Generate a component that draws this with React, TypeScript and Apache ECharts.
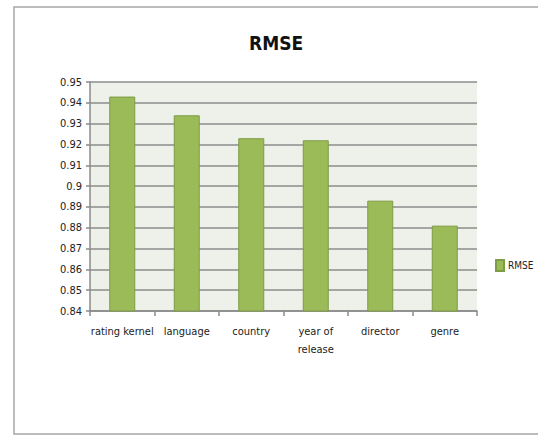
import React, { useEffect, useRef } from "react";
import * as echarts from "echarts";

const categories = ["rating kernel", "language", "country", "year of\nrelease", "director", "genre"];
const rmseValues = [0.943, 0.934, 0.923, 0.922, 0.893, 0.881];
const seriesName = "RMSE";
const titleText = "RMSE";

const FONT = "'Liberation Sans Narrow', 'DejaVu Sans Condensed', Lato, sans-serif";

export default function App() {
  const ref = useRef<HTMLDivElement>(null);
  useEffect(() => {
    document.body.style.margin = "0";
    const chart = echarts.init(ref.current!, undefined, { renderer: "svg" });
    chart.setOption({
      animation: false,
      backgroundColor: "#ffffff",
      title: {
        text: titleText,
        left: 244,
        top: 28,
        textStyle: { fontFamily: FONT, fontSize: 19, fontWeight: "bold", color: "#111" },
      },
      legend: {
        orient: "vertical",
        left: 490,
        top: 254,
        icon: "rect",
        itemWidth: 8,
        itemHeight: 11,
        itemGap: 4,
        textStyle: { fontFamily: FONT, fontSize: 10, color: "#222", padding: [0, 0, 0, -1] },
        data: [seriesName],
      },
      grid: {
        left: 90,
        right: 61,
        top: 82,
        bottom: 125,
        show: true,
        backgroundColor: "#EEF1E9",
        borderWidth: 0,
      },
      xAxis: {
        type: "category",
        data: categories,
        axisLine: { lineStyle: { color: "#8a8a8a", width: 1.5 } },
        axisTick: { show: true, length: 5, lineStyle: { color: "#8a8a8a", width: 1.5 } },
        axisLabel: {
          fontFamily: FONT,
          fontSize: 11,
          color: "#222",
          margin: 11,
          lineHeight: 18,
          interval: 0,
        },
      },
      yAxis: {
        type: "value",
        min: 0.84,
        max: 0.95,
        interval: 0.01,
        axisLine: { show: true, lineStyle: { color: "#8a8a8a", width: 1.5 } },
        axisTick: { show: true, length: 4, lineStyle: { color: "#8a8a8a", width: 1.5 } },
        axisLabel: {
          fontFamily: FONT,
          fontSize: 11,
          color: "#222",
          margin: 8,
          formatter: (v: number) => String(Math.round(v * 100) / 100),
        },
        splitLine: { show: true, lineStyle: { color: "#8c8c8c", width: 1.5 } },
      },
      graphic: [
        {
          type: "rect",
          shape: { x: 14, y: 7, width: 540, height: 427 },
          style: { fill: "none", stroke: "#a6a6a6", lineWidth: 1.5 },
          silent: true,
        },
      ],
      series: [
        {
          name: seriesName,
          type: "bar",
          data: rmseValues,
          barWidth: 26,
          itemStyle: { color: "#9BBB59", borderColor: "#7E9B45", borderWidth: 1 },
        },
      ],
    });
    return () => chart.dispose();
  }, []);
  return <div ref={ref} style={{ width: 538, height: 436 }} />;
}
